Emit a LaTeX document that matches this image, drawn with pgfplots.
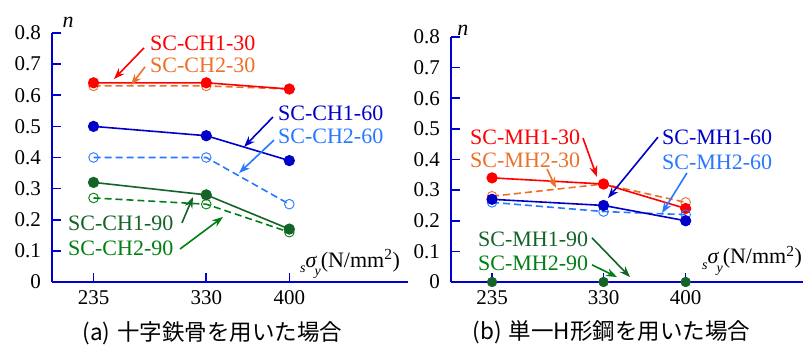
\documentclass[border=0pt]{standalone}
\usepackage{pgfplots}
\pgfplotsset{compat=1.18}
\usepackage{fontspec}
\setmainfont{Liberation Serif}
\newfontfamily\jp{Noto Sans CJK JP}
\usetikzlibrary{arrows.meta}

\definecolor{cred}{RGB}{255,0,0}
\definecolor{corange}{RGB}{237,112,40}
\definecolor{cdblue}{RGB}{0,0,200}
\definecolor{clblue}{RGB}{40,120,255}
\definecolor{cdgreen}{RGB}{20,100,40}
\definecolor{cgreen}{RGB}{0,128,20}
\definecolor{caxis}{RGB}{0,0,210}

\tikzset{
 lab/.style={anchor=west, inner sep=0pt, font=\fontsize{22}{22}\selectfont},
 arr/.style={line width=1.6pt, -{Stealth[length=11pt,width=8pt]}},
}
\pgfplotsset{
 myaxis/.style={scale only axis, xmin=200, xmax=500, ymin=0, ymax=0.8,
  /pgf/number format/assume math mode=true,
  axis x line*=bottom, axis y line*=left,
  axis line style={caxis, line width=1.6pt},
  xtick={235,330,400}, ytick={0,0.1,0.2,0.3,0.4,0.5,0.6,0.7,0.8},
  tick align=inside, major tick length=9pt,
  tick style={caxis, line width=1.6pt},
  tick label style={font=\fontsize{21}{21}\selectfont},
  yticklabel style={/pgf/number format/fixed, /pgf/number format/precision=1, inner sep=0pt, xshift=-11pt},
  xticklabel style={inner sep=0pt, yshift=-8pt, /pgf/number format/1000 sep={}},
  clip=false},
 solidser/.style={line width=1.6pt, mark=*, mark size=4.8pt, mark options={solid}},
 dashser/.style={line width=1.6pt, dash pattern=on 7pt off 4pt, mark=o, mark size=4.8pt, mark options={solid, line width=0.9pt}},
}

\begin{document}
\begin{tikzpicture}
\useasboundingbox (0pt,0pt) rectangle (806pt,-345pt);

% ---------------- (a) ----------------
\begin{axis}[myaxis, width=356pt, height=249pt, at={(52pt,-282pt)}, anchor=south west]
\addplot[dashser, corange] coordinates {(235,0.63) (330,0.63) (400,0.62)};
\addplot[solidser, cred] coordinates {(235,0.64) (330,0.64) (400,0.62)};
\addplot[dashser, clblue] coordinates {(235,0.40) (330,0.40) (400,0.25)};
\addplot[solidser, cdblue] coordinates {(235,0.50) (330,0.47) (400,0.39)};
\addplot[dashser, cgreen] coordinates {(235,0.27) (330,0.25) (400,0.16)};
\addplot[solidser, cdgreen] coordinates {(235,0.32) (330,0.28) (400,0.17)};

\node[lab, cred] at (axis cs:282.6,0.768) {SC-CH1-30};
\node[lab, corange] at (axis cs:282.6,0.697) {SC-CH2-30};
\node[lab, cdblue] at (axis cs:390.4,0.543) {SC-CH1-60};
\node[lab, clblue] at (axis cs:390.4,0.469) {SC-CH2-60};
\node[lab, cdgreen] at (axis cs:213.5,0.190) {SC-CH1-90};
\node[lab, cgreen] at (axis cs:213.5,0.109) {SC-CH2-90};

\draw[arr, cred] (axis cs:277.5,0.752) -- (axis cs:252.2,0.652);
\draw[arr, corange] (axis cs:278.4,0.691) -- (axis cs:266.6,0.633);
\draw[arr, cdblue] (axis cs:386.2,0.530) -- (axis cs:361.8,0.434);
\draw[arr, clblue] (axis cs:387.1,0.456) -- (axis cs:357.6,0.350);
\draw[arr, cdgreen] (axis cs:309.5,0.190) -- (axis cs:318.8,0.273);
\draw[arr, cgreen] (axis cs:307.9,0.106) -- (axis cs:344.1,0.209);

\node[font=\fontsize{22}{22}\selectfont\itshape, inner sep=0pt] at (axis cs:213.5,0.835) {n};
\node[anchor=base west, inner sep=0pt, font=\fontsize{22}{22}\selectfont] at (axis cs:409,0.048)
 {\raisebox{-0.25em}{\fontsize{14}{14}\selectfont\itshape s}\textit{σ}\kern-0.12em\raisebox{-0.4em}{\fontsize{14}{14}\selectfont\itshape y}(N/mm\textsuperscript{2})};
\end{axis}

% ---------------- (b) ----------------
\begin{axis}[myaxis, width=352pt, height=245pt, at={(451pt,-282pt)}, anchor=south west]
\addplot[dashser, corange] coordinates {(235,0.28) (330,0.32) (400,0.26)};
\addplot[solidser, cred] coordinates {(235,0.34) (330,0.32) (400,0.24)};
\addplot[dashser, clblue] coordinates {(235,0.26) (330,0.23) (400,0.22)};
\addplot[solidser, cdblue] coordinates {(235,0.27) (330,0.25) (400,0.20)};
\addplot[only marks, mark=o, mark size=4.8pt, cgreen] coordinates {(235,0) (330,0) (400,0)};
\addplot[only marks, mark=*, mark size=4.8pt, cdgreen] coordinates {(235,0) (330,0) (400,0)};

\node[lab, cred] at (axis cs:216.2,0.473) {SC-MH1-30};
\node[lab, corange] at (axis cs:216.2,0.398) {SC-MH2-30};
\node[lab, cdblue] at (axis cs:379.8,0.473) {SC-MH1-60};
\node[lab, clblue] at (axis cs:379.8,0.392) {SC-MH2-60};
\node[lab, cdgreen] at (axis cs:223.0,0.140) {SC-MH1-90};
\node[lab, cgreen] at (axis cs:223.0,0.062) {SC-MH2-90};

\draw[arr, cred] (axis cs:312.5,0.470) -- (axis cs:324.4,0.343);
\draw[arr, corange] (axis cs:281.8,0.369) -- (axis cs:289.5,0.307);
\draw[arr, cdblue] (axis cs:376.4,0.473) -- (axis cs:333.8,0.274);
\draw[arr, clblue] (axis cs:401.1,0.356) -- (axis cs:379.8,0.225);
\draw[arr, cdgreen] (axis cs:320.2,0.144) -- (axis cs:352.6,0.016);
\draw[arr, cgreen] (axis cs:320.2,0.056) -- (axis cs:341.5,0.016);

\node[font=\fontsize{22}{22}\selectfont\itshape, inner sep=0pt] at (axis cs:210.2,0.823) {n};
\node[anchor=base west, inner sep=0pt, font=\fontsize{22}{22}\selectfont] at (axis cs:413.9,0.059)
 {\raisebox{-0.25em}{\fontsize{14}{14}\selectfont\itshape s}\textit{σ}\kern-0.12em\raisebox{-0.4em}{\fontsize{14}{14}\selectfont\itshape y}(N/mm\textsuperscript{2})};
\end{axis}

\node[font=\jp\fontsize{22.5}{22.5}\selectfont, inner sep=0pt] at (212.5pt,-333pt) {(a)\hspace{0.3em}十字鉄骨を用いた場合};
\node[font=\jp\fontsize{22.5}{22.5}\selectfont, inner sep=0pt] at (611.5pt,-332pt) {(b)\hspace{0.3em}単一H形鋼を用いた場合};
\end{tikzpicture}
\end{document}
